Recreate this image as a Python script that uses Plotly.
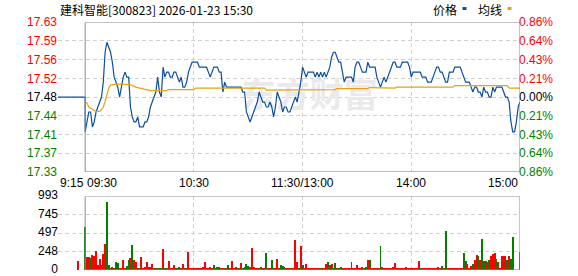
import plotly.graph_objects as go

# ---------------- data ----------------
title_text = "建科智能[300823] 2026-01-23 15:30"
prev_close = 17.48
pct_limit = 0.0086

price_tick_labels = ["17.63", "17.59", "17.56", "17.52", "17.48", "17.44", "17.41", "17.37", "17.33"]
pct_tick_labels = ["0.86%", "0.64%", "0.43%", "0.21%", "0.00%", "0.21%", "0.43%", "0.64%", "0.86%"]
vol_tick_labels = ["993", "745", "497", "248", "0"]
vol_max = 993

time_labels = ["9:15", "09:30", "10:30", "11:30/13:00", "14:00", "15:00"]
time_minutes = [-15, 0, 60, 120, 180, 240]

premarket_minutes = [-15, 0]
premarket_vol_minute = [-4]
premarket_vol = [121]

price = [
    17.41, 17.43, 17.45, 17.45, 17.42, 17.43, 17.45, 17.46, 17.47, 17.48,
    17.51, 17.57, 17.59, 17.58, 17.57, 17.55, 17.52, 17.51, 17.50, 17.48,
    17.50, 17.52, 17.53, 17.52, 17.52, 17.46, 17.44, 17.43, 17.43, 17.44,
    17.42, 17.42, 17.42, 17.43, 17.43, 17.44, 17.46, 17.47, 17.48, 17.49,
    17.52, 17.49, 17.48, 17.54, 17.52, 17.53, 17.53, 17.52, 17.52, 17.53,
    17.53, 17.52, 17.51, 17.52, 17.50, 17.50, 17.51, 17.53, 17.54, 17.55,
    17.55, 17.55, 17.55, 17.54, 17.54, 17.54, 17.54, 17.54, 17.53, 17.52,
    17.53, 17.54, 17.54, 17.54, 17.53, 17.53, 17.49, 17.51, 17.50, 17.50,
    17.50, 17.50, 17.50, 17.50, 17.50, 17.50, 17.50, 17.49, 17.49, 17.45,
    17.44, 17.43, 17.44, 17.45, 17.46, 17.47, 17.49, 17.48, 17.47, 17.47,
    17.46, 17.46, 17.47, 17.46, 17.44, 17.46, 17.49, 17.48, 17.47, 17.45,
    17.46, 17.46, 17.45, 17.45, 17.46, 17.47, 17.48, 17.47, 17.49, 17.51,
    17.54, 17.53, 17.52, 17.53, 17.53, 17.53, 17.53, 17.52, 17.53, 17.52,
    17.53, 17.52, 17.53, 17.52, 17.53, 17.54, 17.56, 17.57, 17.57, 17.56,
    17.55, 17.55, 17.53, 17.51, 17.52, 17.52, 17.52, 17.52, 17.51, 17.54,
    17.55, 17.55, 17.54, 17.53, 17.53, 17.53, 17.55, 17.54, 17.54, 17.54,
    17.54, 17.52, 17.51, 17.50, 17.51, 17.52, 17.51, 17.52, 17.53, 17.54,
    17.55, 17.55, 17.54, 17.54, 17.54, 17.55, 17.55, 17.55, 17.55, 17.54,
    17.52, 17.53, 17.53, 17.53, 17.53, 17.53, 17.52, 17.52, 17.52, 17.51,
    17.51, 17.51, 17.52, 17.53, 17.54, 17.54, 17.53, 17.53, 17.52, 17.51,
    17.51, 17.53, 17.53, 17.53, 17.54, 17.54, 17.54, 17.54, 17.53, 17.52,
    17.51, 17.51, 17.51, 17.50, 17.49, 17.50, 17.50, 17.49, 17.49, 17.48,
    17.50, 17.49, 17.49, 17.48, 17.48, 17.50, 17.49, 17.50, 17.50, 17.50,
    17.50, 17.49, 17.48, 17.48, 17.47, 17.43, 17.41, 17.41, 17.43, 17.46,
    17.47,
]

avg_price = [
    17.471, 17.468, 17.460, 17.458, 17.456, 17.453, 17.451, 17.451, 17.451, 17.455,
    17.460, 17.471, 17.485, 17.498, 17.504, 17.505, 17.506, 17.506, 17.506, 17.506,
    17.506, 17.506, 17.506, 17.506, 17.506, 17.505, 17.503, 17.501, 17.500, 17.499,
    17.498, 17.497, 17.496, 17.495, 17.494, 17.494, 17.493, 17.493, 17.493, 17.493,
    17.493, 17.493, 17.493, 17.493, 17.493, 17.493, 17.495, 17.495, 17.495, 17.495,
    17.495, 17.495, 17.495, 17.495, 17.495, 17.495, 17.495, 17.495, 17.495, 17.495,
    17.495, 17.498, 17.498, 17.498, 17.498, 17.498, 17.498, 17.498, 17.498, 17.498,
    17.498, 17.498, 17.498, 17.498, 17.498, 17.498, 17.498, 17.498, 17.498, 17.498,
    17.499, 17.499, 17.499, 17.499, 17.499, 17.499, 17.498, 17.498, 17.498, 17.498,
    17.498, 17.498, 17.498, 17.498, 17.498, 17.498, 17.498, 17.498, 17.498, 17.498,
    17.494, 17.494, 17.494, 17.494, 17.494, 17.494, 17.494, 17.494, 17.494, 17.494,
    17.494, 17.494, 17.494, 17.494, 17.494, 17.494, 17.494, 17.494, 17.494, 17.494,
    17.494, 17.494, 17.494, 17.494, 17.494, 17.494, 17.494, 17.494, 17.494, 17.494,
    17.494, 17.494, 17.494, 17.495, 17.495, 17.495, 17.495, 17.495, 17.495, 17.497,
    17.497, 17.497, 17.497, 17.497, 17.497, 17.497, 17.497, 17.497, 17.497, 17.497,
    17.497, 17.497, 17.497, 17.497, 17.497, 17.497, 17.497, 17.499, 17.499, 17.499,
    17.499, 17.499, 17.499, 17.498, 17.498, 17.498, 17.498, 17.498, 17.498, 17.498,
    17.498, 17.498, 17.500, 17.500, 17.500, 17.500, 17.500, 17.500, 17.500, 17.500,
    17.500, 17.500, 17.500, 17.500, 17.500, 17.500, 17.500, 17.500, 17.500, 17.500,
    17.500, 17.500, 17.500, 17.500, 17.500, 17.500, 17.500, 17.500, 17.500, 17.500,
    17.500, 17.500, 17.500, 17.500, 17.503, 17.503, 17.503, 17.503, 17.503, 17.503,
    17.503, 17.503, 17.503, 17.503, 17.503, 17.503, 17.503, 17.503, 17.503, 17.503,
    17.503, 17.503, 17.503, 17.503, 17.503, 17.503, 17.503, 17.503, 17.503, 17.503,
    17.503, 17.503, 17.503, 17.503, 17.498, 17.498, 17.498, 17.498, 17.498, 17.498,
    17.498,
]

volume = [
    580, 166, 166, 157, 202, 189, 256, 67, 148, 67,
    216, 350, 917, 63, 20, 30, 15, 108, 90, 20,
    20, 135, 10, 45, 135, 157, 337, 135, 99, 20,
    15, 175, 20, 30, 108, 30, 30, 81, 10, 15,
    15, 15, 15, 279, 15, 15, 121, 15, 10, 67,
    10, 10, 30, 10, 81, 10, 10, 238, 10, 10,
    15, 20, 25, 15, 20, 30, 108, 10, 15, 30,
    10, 63, 25, 30, 30, 10, 12, 10, 15, 67,
    10, 121, 15, 30, 15, 15, 90, 15, 40, 76,
    50, 30, 292, 30, 15, 15, 15, 30, 10, 10,
    229, 20, 10, 135, 20, 10, 144, 15, 63, 50,
    30, 10, 25, 15, 20, 10, 404, 99, 15, 315,
    58, 20, 81, 10, 10, 10, 10, 10, 10, 10,
    15, 10, 10, 81, 108, 63, 81, 15, 94, 10,
    15, 40, 10, 10, 10, 12, 10, 108, 15, 10,
    63, 15, 25, 30, 25, 30, 135, 135, 10, 10,
    10, 10, 10, 324, 30, 25, 25, 10, 10, 10,
    30, 94, 12, 15, 10, 20, 15, 30, 10, 10,
    10, 10, 15, 10, 121, 10, 15, 10, 15, 10,
    10, 10, 10, 10, 10, 30, 10, 54, 10, 526,
    20, 12, 10, 10, 10, 10, 10, 10, 10, 229,
    121, 81, 10, 54, 81, 135, 202, 189, 135, 413,
    121, 121, 99, 135, 189, 216, 229, 148, 108, 10,
    189, 189, 189, 135, 189, 148, 440, 0, 0, 0,
    243,
]

vol_up = [
    0, 1, 1, 0, 1, 1, 1, 1, 1, 1,
    1, 1, 0, 0, 1, 0, 1, 0, 0, 1,
    1, 1, 1, 0, 0, 1, 0, 1, 1, 0,
    1, 1, 1, 1, 1, 1, 1, 1, 0, 1,
    1, 0, 0, 1, 0, 0, 1, 1, 1, 1,
    0, 0, 0, 1, 1, 0, 1, 1, 1, 1,
    1, 1, 1, 1, 1, 1, 1, 1, 1, 1,
    1, 0, 1, 0, 0, 1, 1, 0, 1, 0,
    1, 1, 1, 1, 1, 0, 1, 0, 0, 0,
    0, 1, 1, 1, 1, 1, 1, 0, 1, 1,
    0, 1, 1, 0, 1, 1, 1, 1, 0, 0,
    0, 1, 1, 0, 1, 1, 1, 1, 0, 1,
    0, 1, 1, 1, 1, 1, 1, 1, 1, 1,
    0, 1, 1, 1, 0, 1, 1, 0, 0, 1,
    0, 0, 1, 1, 1, 1, 1, 0, 1, 1,
    1, 1, 1, 1, 0, 0, 1, 0, 1, 1,
    1, 1, 1, 0, 1, 1, 1, 1, 1, 1,
    1, 1, 1, 1, 1, 1, 1, 1, 1, 1,
    1, 1, 1, 1, 1, 0, 1, 1, 1, 1,
    1, 1, 1, 1, 1, 1, 1, 0, 1, 0,
    1, 1, 1, 1, 1, 1, 1, 1, 1, 0,
    0, 1, 1, 1, 0, 1, 1, 0, 1, 0,
    0, 0, 1, 0, 1, 1, 1, 0, 1, 1,
    1, 1, 0, 0, 1, 0, 0, 1, 1, 1,
    1,
]

legend_labels = ["价格", "均线"]

# ---------------- style ----------------
W, H = 578, 276
ML, MR, MT, MB = 58, 58, 21.5, 6
PW, PH = W - ML - MR, H - MT - MB
BLUE = "#0B4FA0"
ORANGE = "#E0A416"
RED = "#FF0000"
GREEN = "#008000"
BORDER = "#8C8C8C"
GRID = "#CFCFCF"
FONT = "Liberation Sans, Arial, Noto Sans CJK SC, sans-serif"
CJK = "Noto Sans CJK SC, sans-serif"


def px_x(px):
    return (px - ML) / PW


def px_y(py):
    return (H - MB - py) / PH


def clamp(v):
    return max(0.0, min(1.0, v))


price_bottom_px, price_top_px = 171.7, 21.7
vol_bottom_px, vol_top_px = 270.0, 196.3

lo = prev_close * (1 - pct_limit)
hi = prev_close * (1 + pct_limit)
n_ticks = len(price_tick_labels)
price_tickvals = [hi - i * (hi - lo) / (n_ticks - 1) for i in range(n_ticks)]


def colored(labels, vals):
    out = []
    for lab, v in zip(labels, vals):
        if abs(v - prev_close) < 1e-9:
            c = "#000000"
        elif v > prev_close:
            c = RED
        else:
            c = GREEN
        out.append(f'<span style="color:{c}">{lab}</span>')
    return out


vol_tickvals = [vol_max - i * vol_max / (len(vol_tick_labels) - 1) for i in range(len(vol_tick_labels))]

minutes = list(range(len(price)))
xr = [min(time_minutes), max(time_minutes)]

fig = go.Figure()

# watermark (below the lines)
fig.add_trace(go.Scatter(
    x=[124], y=[prev_close - 0.003], mode="text", text=["<b>东方财富</b>"],
    textfont=dict(family=CJK, size=34, color="#EAEAEC"),
    hoverinfo="skip", showlegend=False, xaxis="x", yaxis="y",
))

# pre-market line + price
fig.add_trace(go.Scatter(
    x=premarket_minutes + minutes, y=[prev_close, prev_close] + price,
    mode="lines", line=dict(color=BLUE, width=1.2, shape="linear"),
    showlegend=False, xaxis="x", yaxis="y",
))
fig.add_trace(go.Scatter(
    x=minutes, y=avg_price, mode="lines", line=dict(color=ORANGE, width=1.2),
    showlegend=False, xaxis="x", yaxis="y",
))
# invisible trace for right axis
fig.add_trace(go.Scatter(
    x=[0], y=[prev_close], mode="markers", marker=dict(opacity=0),
    showlegend=False, xaxis="x", yaxis="y2", hoverinfo="skip",
))

# volume
fig.add_trace(go.Bar(
    x=premarket_vol_minute + minutes, y=premarket_vol + volume,
    marker=dict(color=[RED] + [RED if u else GREEN for u in vol_up], line=dict(width=0)),
    width=0.55, showlegend=False, xaxis="x2", yaxis="y3",
))

# volume axis labels as text marks (so the baseline label is not culled)
fig.add_trace(go.Scatter(
    x=[xr[0]] * len(vol_tick_labels), y=vol_tickvals, mode="text",
    text=vol_tick_labels, textposition="middle left", cliponaxis=False,
    textfont=dict(family=FONT, size=12, color="#000000"),
    hoverinfo="skip", showlegend=False, xaxis="x2", yaxis="y3",
))

price_dom = [clamp(px_y(price_bottom_px)), clamp(px_y(price_top_px))]
vol_dom = [clamp(px_y(vol_bottom_px)), clamp(px_y(vol_top_px))]

axis_common = dict(showline=False, zeroline=False, ticks="", fixedrange=True,
                   automargin=False)

fig.update_layout(
    width=W, height=H,
    margin=dict(l=ML, r=MR, t=MT, b=MB, pad=0, autoexpand=False),
    paper_bgcolor="white", plot_bgcolor="white",
    font=dict(family=FONT, size=12, color="#000000"),
    bargap=0,
    xaxis=dict(domain=[0, 1], range=xr, anchor="y", showticklabels=False,
               tickvals=[60, 120, 180], showgrid=True, gridcolor=GRID, griddash="4px,3px",
               gridwidth=1, **axis_common),
    xaxis2=dict(domain=[0, 1], range=xr, anchor="y3", showticklabels=False,
                tickvals=[60, 120, 180], showgrid=True, gridcolor=GRID, griddash="4px,3px",
                gridwidth=1, **axis_common),
    yaxis=dict(domain=price_dom, range=[lo, hi], anchor="x", side="left",
               tickvals=price_tickvals, ticktext=colored(price_tick_labels, price_tickvals),
               showgrid=True, gridcolor=GRID, griddash="4px,3px", gridwidth=1,
               tickfont=dict(size=12), **axis_common),
    yaxis2=dict(domain=price_dom, range=[lo, hi], anchor="x", overlaying="y", side="right",
                tickvals=price_tickvals, ticktext=colored(pct_tick_labels, price_tickvals),
                showgrid=False, tickfont=dict(size=12), ticklabelstandoff=-2, **axis_common),
    yaxis3=dict(domain=vol_dom, range=[0, vol_max], anchor="x2", side="left",
                tickvals=vol_tickvals, showticklabels=False,
                showgrid=True, gridcolor=GRID, griddash="4px,3px", gridwidth=1,
                **axis_common),
)

shapes = [
    dict(type="rect", xref="x", yref="y", x0=0, x1=240, y0=lo, y1=hi,
         line=dict(color=BORDER, width=1), layer="above"),
    dict(type="rect", xref="x2", yref="y3", x0=0, x1=240, y0=0, y1=vol_max,
         line=dict(color=BORDER, width=1), layer="above"),
    # legend markers
    dict(type="rect", xref="paper", yref="paper", x0=px_x(462.5), x1=px_x(466.5),
         y0=px_y(9.5), y1=px_y(6.5), fillcolor=BLUE, line=dict(width=0)),
    dict(type="rect", xref="paper", yref="paper", x0=px_x(507.5), x1=px_x(511.5),
         y0=px_y(9.5), y1=px_y(6.5), fillcolor=ORANGE, line=dict(width=0)),
]
fig.update_layout(shapes=shapes)

annotations = [
    dict(text=title_text, xref="paper", yref="paper", x=px_x(58), y=px_y(9),
         xanchor="left", yanchor="middle", showarrow=False,
         font=dict(family=CJK, size=12, color="#000000")),
    dict(text=legend_labels[0], xref="paper", yref="paper", x=px_x(431), y=px_y(9),
         xanchor="left", yanchor="middle", showarrow=False,
         font=dict(family=CJK, size=12, color="#000000")),
    dict(text=legend_labels[1], xref="paper", yref="paper", x=px_x(476), y=px_y(9),
         xanchor="left", yanchor="middle", showarrow=False,
         font=dict(family=CJK, size=12, color="#000000")),
]
anchors = ["left", "left", "center", "center", "center", "right"]
for lab, m, a in zip(time_labels, time_minutes, anchors):
    annotations.append(dict(text=lab, xref="x", yref="paper", x=m, y=px_y(183),
                            xanchor=a, yanchor="middle", showarrow=False,
                            font=dict(family=FONT, size=12, color="#000000")))
fig.update_layout(annotations=annotations)

fig.write_html("out.html")
